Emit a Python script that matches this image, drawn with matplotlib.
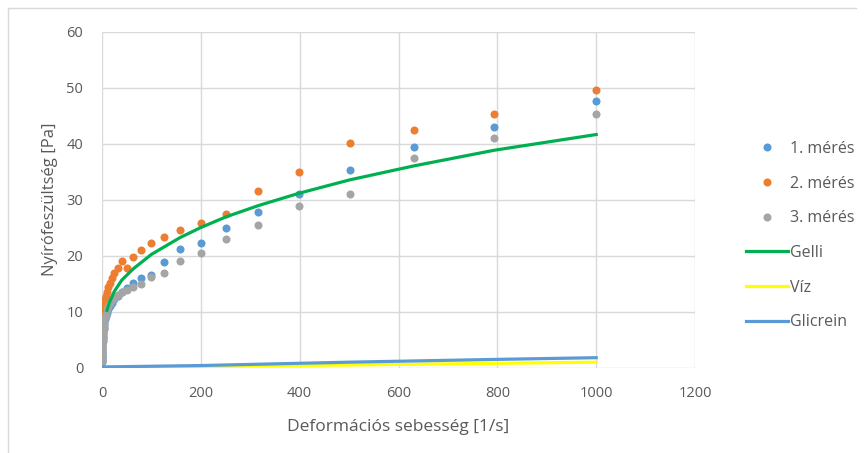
import matplotlib.pyplot as plt
from matplotlib.lines import Line2D

plt.rcParams['font.family'] = ['Open Sans', 'DejaVu Sans']

# shear rate grid of the measurements [1/s]
rate = [0.1, 0.126, 0.158, 0.2, 0.251, 0.316, 0.398, 0.501, 0.631, 0.794,
        1, 1.26, 1.58, 2, 2.51, 3.16, 3.98, 5.01, 6.31, 7.94,
        10, 12.6, 15.8, 20, 25.1, 31.6, 39.8, 50.1, 63.1, 79.4,
        100, 126, 158, 200, 251, 316, 398, 501, 631, 794, 1000]

meres1 = [0.9, 1.2, 1.5, 1.8, 2.1, 2.4, 2.8, 3.1, 3.5, 3.9,
          4.3, 4.7, 5.2, 5.7, 6.2, 6.8, 7.4, 8.0, 8.6, 9.2,
          9.8, 10.4, 11.0, 11.6, 12.2, 12.8, 13.4, 14.2, 15.1, 15.9,
          16.5, 18.8, 21.1, 22.2, 24.9, 27.7, 30.9, 35.2, 39.3, 42.9, 47.6]

meres2 = [5.0, 5.4, 5.8, 6.2, 6.6, 7.0, 7.4, 7.8, 8.2, 8.6,
          9.0, 9.4, 9.8, 10.2, 10.6, 11.0, 11.4, 11.8, 12.3, 12.8,
          13.5, 14.3, 15.1, 16.0, 16.9, 17.8, 19.0, 17.7, 19.7, 20.9,
          22.2, 23.3, 24.6, 25.8, 27.4, 31.6, 34.9, 40.1, 42.4, 45.2, 49.6]

meres3 = [1.2, 1.5, 1.8, 2.1, 2.4, 2.7, 3.0, 3.3, 3.6, 4.0,
          4.4, 4.9, 5.4, 5.9, 6.5, 7.1, 7.7, 8.3, 9.0, 9.6,
          10.4, 11.0, 11.5, 12.0, 12.5, 13.0, 13.4, 13.9, 14.4, 14.9,
          16.1, 16.9, 19.1, 20.5, 23.0, 25.5, 28.8, 31.0, 37.4, 41.0, 45.2]

# fitted curve for the gel
gelli_x = [10, 15, 25, 40, 63, 100, 158, 200, 251, 316, 398, 501, 631, 794, 1000]
gelli_y = [10.2, 11.6, 13.6, 15.6, 17.6, 20.2, 23.2, 25.0, 26.9, 28.9, 31.1, 33.5, 36.0, 38.8, 41.6]

# newtonian references
viz_x = [0, 500, 1000]
viz_y = [0, 0.45, 0.95]
glic_x = [0, 200, 500, 800, 1000]
glic_y = [0.1, 0.35, 0.95, 1.45, 1.75]

blue = '#5B9BD5'
orange = '#ED7D31'
gray = '#A5A5A5'
green = '#00B050'
yellow = '#FFFF00'
txt = '#595959'

fig = plt.figure(figsize=(8.64, 4.53), dpi=100)
ax = fig.add_axes([102/864, 1 - 367.5/453, (695-102)/864, (367.5-31.5)/453])

ms = 5.8
ax.plot(rate, meres1, 'o', color=blue, ms=ms, mec='none', zorder=3)
ax.plot(rate, meres2, 'o', color=orange, ms=ms, mec='none', zorder=3)
ax.plot(rate, meres3, 'o', color=gray, ms=ms, mec='none', zorder=3)
ax.plot(gelli_x, gelli_y, color=green, lw=2.3, zorder=4)
ax.plot(viz_x, viz_y, color=yellow, lw=2.3, zorder=4)
ax.plot(glic_x, glic_y, color=blue, lw=2.3, zorder=4)

ax.set_xlim(0, 1200)
ax.set_ylim(0, 60)
ax.set_xticks(range(0, 1201, 200))
ax.set_yticks(range(0, 61, 10))
ax.grid(True, color='#D9D9D9', lw=1)
ax.set_axisbelow(True)
for s in ax.spines.values():
    s.set_visible(False)
ax.tick_params(length=0, labelsize=10.5, labelcolor=txt, pad=13.5)

ax.set_xlabel('Deformációs sebesség [1/s]', fontsize=12.5, color=txt, labelpad=12.5)
ax.set_ylabel('Nyírófeszültség [Pa]', fontsize=12, color=txt, labelpad=6)

handles = [
    Line2D([], [], ls='none', marker='o', color=blue, ms=ms, mec='none'),
    Line2D([], [], ls='none', marker='o', color=orange, ms=ms, mec='none'),
    Line2D([], [], ls='none', marker='o', color=gray, ms=ms, mec='none'),
    Line2D([], [], color=green, lw=2.3),
    Line2D([], [], color=yellow, lw=2.3),
    Line2D([], [], color=blue, lw=2.3),
]
labels = ['1. mérés', '2. mérés', '3. mérés', 'Gelli', 'Víz', 'Glicrein']
fig.legend(handles, labels, loc='upper left', bbox_to_anchor=(738/864, 1 - 133/453),
           frameon=False, fontsize=11.5, labelcolor=txt, handlelength=2.65,
           handletextpad=0.1, labelspacing=1.17, borderpad=0)

# chart area border (left and top edges)
fig.add_artist(Line2D([8/864, 8/864], [0, 1 - 8/453], color='#D9D9D9', lw=1))
fig.add_artist(Line2D([8/864, 856/864], [1 - 8/453, 1 - 8/453], color='#D9D9D9', lw=1))

fig.savefig('out.png', dpi=100)
